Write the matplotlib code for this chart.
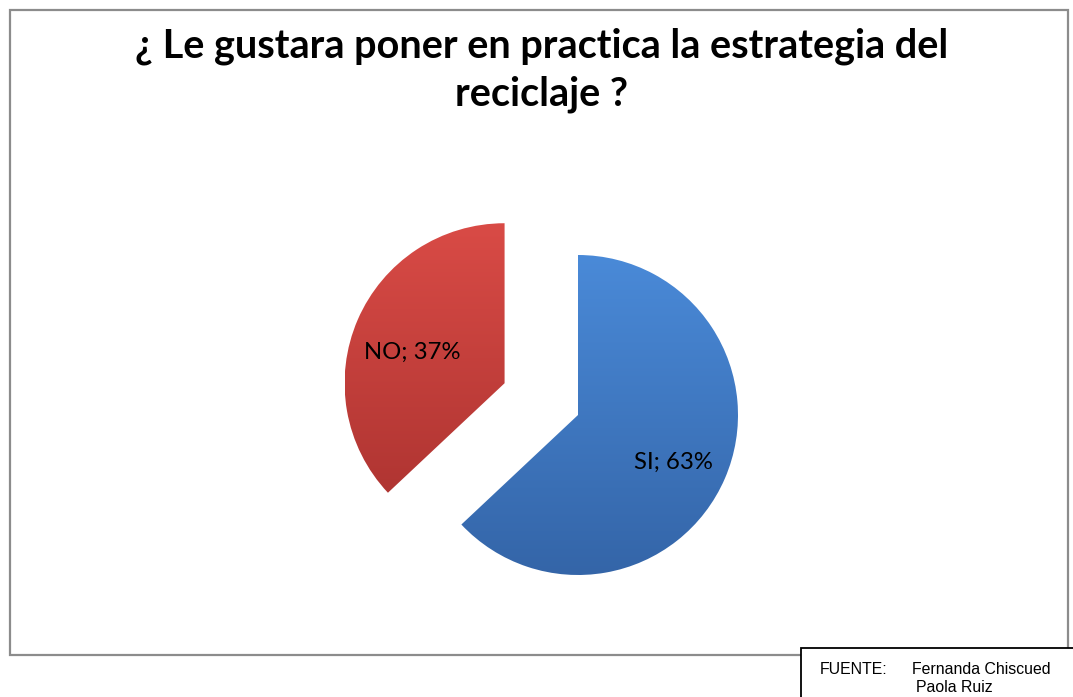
import matplotlib
matplotlib.use('Agg')
import matplotlib.pyplot as plt
import numpy as np
from matplotlib.patches import Rectangle
from matplotlib.colors import LinearSegmentedColormap

# datos del grafico
categorias = ['SI', 'NO']
porcentajes = [63, 37]
separacion = [0, 0.5]  # fraccion del radio
colores = ['#3f7dca', '#c9413d']
colores_claros = ['#4a8ad8', '#d94b46']
colores_oscuros = ['#3465a8', '#b03532']
titulo = '¿ Le gustara poner en practica la estrategia del\nreciclaje ?'
fuente_lineas = ['FUENTE:', 'Fernanda Chiscued', 'Paola Ruiz']

W, H = 1073, 697
fig = plt.figure(figsize=(W / 100, H / 100), dpi=100)
ax = fig.add_axes([0, 0, 1, 1])

# marco del grafico
ax.add_patch(Rectangle((10, H - 655), 1058, 645, fill=False, edgecolor='#8c8c8c', lw=1.6, zorder=1))

# torta (SI arranca arriba y gira en sentido horario, NO separado)
centro = (578, H - 415)
radio = 160
etiquetas = [f'{c}; {p}%' for c, p in zip(categorias, porcentajes)]
wedges, _ = ax.pie(porcentajes, startangle=90, counterclock=False, colors=colores,
                   explode=[s * radio for s in separacion], center=centro, radius=radio,
                   wedgeprops=dict(edgecolor='none'))

# degradado vertical en cada porcion
for w, c1, c2 in zip(wedges, colores_claros, colores_oscuros):
    bb = w.get_path().get_extents(w.get_transform() - ax.transData)
    cmap = LinearSegmentedColormap.from_list('g', [c2, c1])
    grad = np.linspace(0, 1, 256).reshape(-1, 1)
    im = ax.imshow(grad, cmap=cmap, extent=[bb.x0, bb.x1, bb.y0, bb.y1],
                   origin='lower', aspect='auto', zorder=2)
    im.set_clip_path(w)
    w.set_facecolor('none')

# etiquetas dentro de las porciones
ax.text(673, H - 462, etiquetas[0], fontsize=17.2, family='Lato', ha='center', va='center', zorder=5)
ax.text(412, H - 352, etiquetas[1], fontsize=17.2, family='Lato', ha='center', va='center', zorder=5)

# titulo
ax.text(W / 2 + 5, H - 70, titulo, fontsize=28.5, fontweight='bold', family='Lato',
        ha='center', va='center', linespacing=1.35, zorder=5)

# cuadro de fuente
ax.add_patch(Rectangle((801, H - 705), 300, 57, facecolor='white', edgecolor='black', lw=1.3, zorder=6))
ax.text(820, H - 669, fuente_lineas[0], fontsize=11.4, family='Liberation Sans', va='center', zorder=7)
ax.text(912, H - 669, fuente_lineas[1], fontsize=11.4, family='Liberation Sans', va='center', zorder=7)
ax.text(916, H - 687, fuente_lineas[2], fontsize=11.4, family='Liberation Sans', va='center', zorder=7)

ax.set_xlim(0, W)
ax.set_ylim(0, H)
ax.set_aspect('auto')
ax.axis('off')

fig.savefig('out.png', dpi=100)
